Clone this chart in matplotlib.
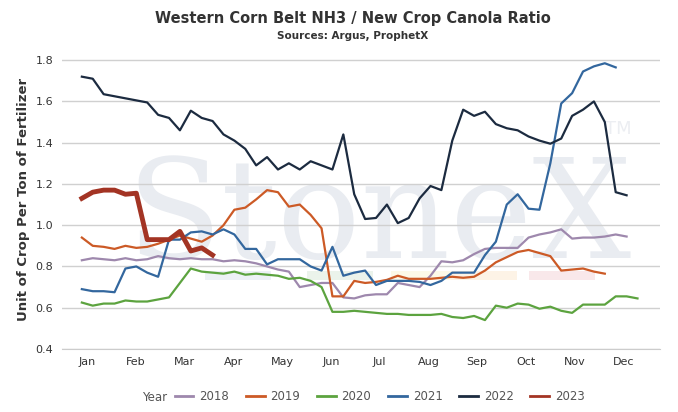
import numpy as np
import matplotlib.pyplot as plt
from matplotlib.lines import Line2D

months = ["Jan", "Feb", "Mar", "Apr", "May", "Jun", "Jul", "Aug", "Sep", "Oct", "Nov", "Dec"]

y2018 = [0.83, 0.84, 0.835, 0.83, 0.84, 0.83, 0.835, 0.85, 0.84, 0.835, 0.84, 0.835, 0.835, 0.825,
         0.83, 0.825, 0.815, 0.80, 0.785, 0.775, 0.70, 0.71, 0.72, 0.72, 0.65, 0.645, 0.66, 0.665,
         0.665, 0.72, 0.71, 0.70, 0.755, 0.825, 0.82, 0.83, 0.86, 0.885, 0.89, 0.89, 0.89, 0.94,
         0.955, 0.965, 0.98, 0.935, 0.94, 0.94, 0.945, 0.955, 0.945]
y2019 = [0.94, 0.90, 0.895, 0.885, 0.90, 0.89, 0.895, 0.91, 0.93, 0.95, 0.935, 0.92, 0.95, 1.0,
         1.075, 1.085, 1.125, 1.17, 1.16, 1.09, 1.10, 1.05, 0.985, 0.655, 0.655, 0.73, 0.72, 0.725,
         0.735, 0.755, 0.74, 0.74, 0.74, 0.745, 0.75, 0.745, 0.75, 0.78, 0.82, 0.845, 0.87, 0.88,
         0.865, 0.85, 0.78, 0.785, 0.79, 0.775, 0.765]
y2020 = [0.625, 0.61, 0.62, 0.62, 0.635, 0.63, 0.63, 0.64, 0.65, 0.72, 0.79, 0.775, 0.77, 0.765,
         0.775, 0.76, 0.765, 0.76, 0.755, 0.74, 0.745, 0.73, 0.70, 0.58, 0.58, 0.585, 0.58, 0.575,
         0.57, 0.57, 0.565, 0.565, 0.565, 0.57, 0.555, 0.55, 0.56, 0.54, 0.61, 0.60, 0.62, 0.615,
         0.595, 0.605, 0.585, 0.575, 0.615, 0.615, 0.615, 0.655, 0.655, 0.645]
y2021 = [0.69, 0.68, 0.68, 0.675, 0.79, 0.80, 0.77, 0.75, 0.93, 0.93, 0.965, 0.97, 0.955, 0.98,
         0.955, 0.885, 0.885, 0.81, 0.835, 0.835, 0.835, 0.80, 0.78, 0.895, 0.755, 0.77, 0.78, 0.71,
         0.73, 0.73, 0.73, 0.725, 0.71, 0.73, 0.77, 0.77, 0.77, 0.855, 0.92, 1.10, 1.15, 1.08, 1.075,
         1.30, 1.59, 1.64, 1.745, 1.77, 1.785, 1.765]
y2022 = [1.72, 1.71, 1.635, 1.625, 1.615, 1.605, 1.595, 1.535, 1.52, 1.46, 1.555, 1.52, 1.505, 1.44,
         1.41, 1.37, 1.29, 1.33, 1.27, 1.30, 1.27, 1.31, 1.29, 1.27, 1.44, 1.15, 1.03, 1.035, 1.10,
         1.01, 1.035, 1.13, 1.19, 1.17, 1.41, 1.56, 1.53, 1.55, 1.49, 1.47, 1.46, 1.43, 1.41, 1.395,
         1.42, 1.53, 1.56, 1.60, 1.50, 1.16, 1.145]
y2023 = [1.13, 1.16, 1.17, 1.17, 1.15, 1.155, 0.93, 0.93, 0.93, 0.97, 0.875, 0.89, 0.855]

series = [("2018", y2018, "#9e88ad", 1.6), ("2019", y2019, "#cc5a26", 1.6),
          ("2020", y2020, "#5ca33f", 1.6), ("2021", y2021, "#33679e", 1.6),
          ("2022", y2022, "#1c2b40", 1.6), ("2023", y2023, "#a33424", 3.5)]

fig = plt.figure(figsize=(6.78, 4.12), dpi=100)
ax = fig.add_axes([0.091, 0.153, 0.883, 0.726])

ax.text(0.53, 0.43, "StoneX", transform=ax.transAxes, ha="center", va="center",
        fontsize=100, family="DejaVu Serif", color="#e9ecf1", zorder=0)
ax.text(0.93, 0.72, "TM", transform=ax.transAxes, ha="center", fontsize=13, color="#eceef2", zorder=0)
for x0, c in [(0.24, "#edf1f6"), (0.41, "#ebf3eb"), (0.55, "#fcf9e8"), (0.65, "#fdf3e6"), (0.78, "#f9e8ea")]:
    ax.axhspan(0.735, 0.78, xmin=x0, xmax=x0 + 0.11, color=c, zorder=0, lw=0)

for name, vals, col, lw in series:
    ax.plot(np.arange(len(vals)), vals, color=col, lw=lw, zorder=3 if name == "2023" else 2)

ax.set_xlim(-1.85, 53.1)
ax.set_ylim(0.4, 1.85)
ax.set_yticks(np.arange(0.4, 1.81, 0.2))
ax.set_yticklabels([f"{v:.1f}" for v in np.arange(0.4, 1.81, 0.2)], fontsize=8, color="#333333")
ax.set_xticks([0.45 + 4.48 * m for m in range(12)])
ax.set_xticklabels(months, fontsize=8, color="#333333")
ax.grid(axis="y", color="#d0d0d0", lw=1)
ax.tick_params(length=0, pad=6)
for s in ["top", "left", "right"]:
    ax.spines[s].set_visible(False)
ax.spines["bottom"].set_color("#cccccc")

ax.set_ylabel("Unit of Crop Per Ton of Fertilizer", fontsize=9.5, fontweight="bold", color="#333333")
fig.text(0.52, 0.945, "Western Corn Belt NH3 / New Crop Canola Ratio", ha="center",
         fontsize=10.5, fontweight="bold", color="#333333")
fig.text(0.52, 0.905, "Sources: Argus, ProphetX", ha="center", fontsize=7.5,
         fontweight="bold", color="#333333")

handles = [Line2D([], [], color=c, lw=2) for _, _, c, _ in series]
fig.text(0.21, 0.035, "Year", fontsize=8.5, color="#555555", va="center")
leg = fig.legend(handles, [s[0] for s in series], loc="center", bbox_to_anchor=(0.56, 0.037),
                 ncol=6, frameon=False, fontsize=8.5, handlelength=1.6, columnspacing=1.4,
                 handletextpad=0.5)
for t in leg.get_texts():
    t.set_color("#555555")

fig.savefig("out.png", dpi=100)
